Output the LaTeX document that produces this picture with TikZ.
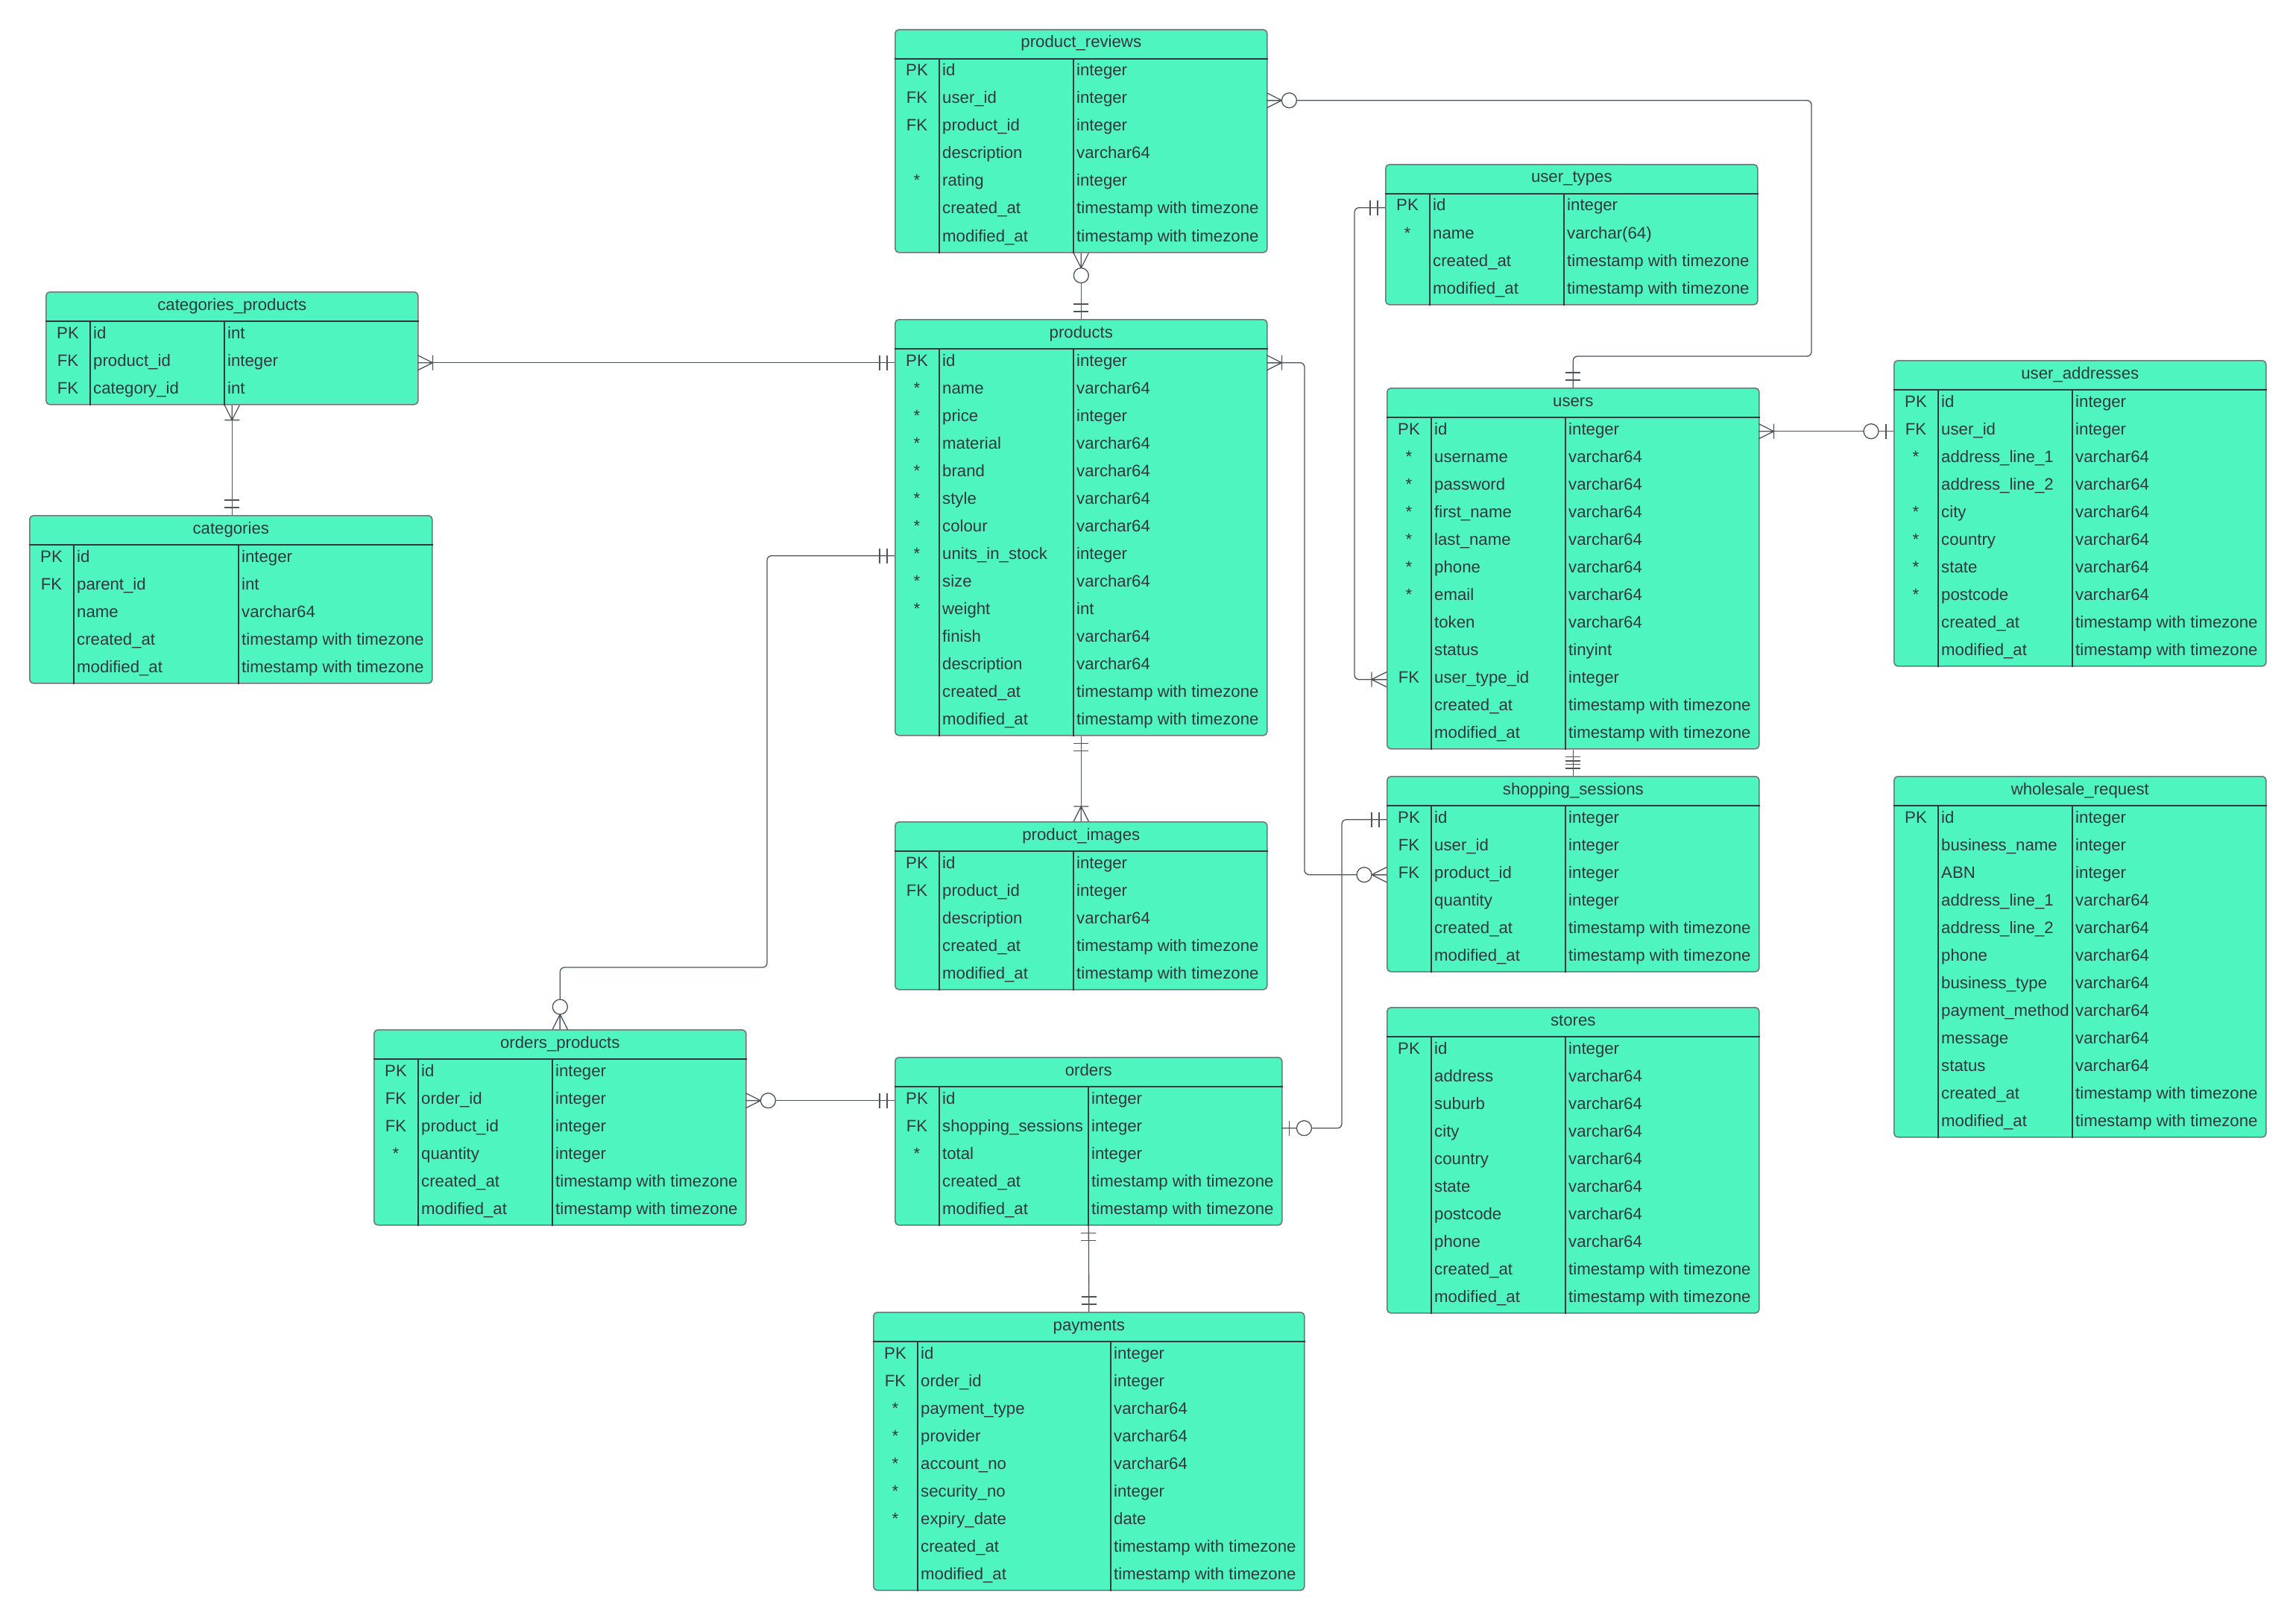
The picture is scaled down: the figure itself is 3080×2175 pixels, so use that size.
\documentclass[tikz,border=0pt]{standalone}
\usepackage{fontspec}
\setmainfont{Liberation Sans}
\usetikzlibrary{calc}

\definecolor{mint}{RGB}{79,245,190}
\definecolor{ink}{RGB}{50,55,62}
\definecolor{edgegrey}{RGB}{112,118,124}
\definecolor{wire}{RGB}{78,84,94}

\tikzset{
  tbl/.style={draw=edgegrey, line width=1.6pt, fill=mint, rounded corners=5pt,
    inner sep=0pt, anchor=north west},
  gridline/.style={draw=ink, line width=1.2pt},
  rowbox/.style={inner sep=0pt, minimum height=37pt, anchor=north west},
  txt/.style={inner sep=0pt, text=ink, font=\fontsize{22.2}{26}\selectfont},
  conn/.style={draw=wire, line width=1.3pt},
  route/.style={conn, rounded corners=6pt},
}

\newcommand\tstz{timestamp with timezone}

% #1 id, #2 left, #3 top, #4 name column width, #5 title, #6 row count, #7 rows key/name/type
\newcommand\erbox[7]{%
  \pgfmathsetmacro\tw{60+#4+259}%
  \pgfmathsetmacro\th{40+37*#6}%
  \node[tbl, minimum width=\tw pt, minimum height=\th pt] (#1) at (#2,#3) {};
  \node[txt, anchor=base] (#1-title) at ([yshift=-25pt]#1.north) {#5};
  \draw[gridline] ([yshift=-40pt]#1.north west) -- ([yshift=-40pt]#1.north east);
  \draw[gridline] ([shift={(60pt,-40pt)}]#1.north west) -- ([xshift=60pt]#1.south west);
  \draw[gridline] ([shift={(60pt+#4pt,-40pt)}]#1.north west) -- ([xshift=60pt+#4pt]#1.south west);
  \foreach \k/\n/\t [count=\i] in {#7}{%
    \node[rowbox, minimum width=\tw pt] (#1-r\i) at ([yshift={-40pt-37pt*(\i-1)}]#1.north west) {};
    \node[txt, anchor=base] (#1-k\i) at ([shift={(30pt,-23pt)}]#1-r\i.north west) {\k};
    \node[txt, anchor=base west] (#1-n\i) at ([shift={(64pt,-23pt)}]#1-r\i.north west) {\n};
    \node[txt, anchor=base west] (#1-t\i) at ([shift={(64pt+#4pt,-23pt)}]#1-r\i.north west) {\t};
  }%
}

% relationship ends: #1 point on the table edge, #2 outward direction
\newcommand\symZM[2]{\begin{scope}[shift={(#1)},rotate=#2]
  \draw[conn] (0,-10) -- (20,0) -- (0,10) (0,0) -- (20,0);
  \draw[conn, fill=white] (30,0) circle[radius=10pt];
\end{scope}}
\newcommand\symOM[2]{\begin{scope}[shift={(#1)},rotate=#2]
  \draw[conn] (0,-10) -- (20,0) -- (0,10) (0,0) -- (20,0) (20,-10) -- (20,10);
\end{scope}}
\newcommand\symOO[2]{\begin{scope}[shift={(#1)},rotate=#2]
  \draw[conn] (10,-10) -- (10,10) (20,-10) -- (20,10);
\end{scope}}
\newcommand\symZO[2]{\begin{scope}[shift={(#1)},rotate=#2]
  \draw[conn] (10,-10) -- (10,10);
  \draw[conn, fill=white] (30,0) circle[radius=10pt];
\end{scope}}

\begin{document}
\catcode`\_=12
\begin{tikzpicture}[x=1pt, y=-1pt]
\fill[white] (0,0) rectangle (3080,2175);
\useasboundingbox (0,0) rectangle (3080,2175);

\erbox{pr}{1200}{39}{180}{product_reviews}{7}{PK/id/integer, FK/user_id/integer,
  FK/product_id/integer, /description/varchar64, */rating/integer,
  /created_at/\tstz, /modified_at/\tstz}

\erbox{products}{1200}{428}{180}{products}{14}{PK/id/integer, */name/varchar64,
  */price/integer, */material/varchar64, */brand/varchar64, */style/varchar64,
  */colour/varchar64, */units_in_stock/integer, */size/varchar64, */weight/int,
  /finish/varchar64, /description/varchar64, /created_at/\tstz, /modified_at/\tstz}

\erbox{pi}{1200}{1102}{180}{product_images}{5}{PK/id/integer, FK/product_id/integer,
  /description/varchar64, /created_at/\tstz, /modified_at/\tstz}

\erbox{ut}{1858}{220}{180}{user_types}{4}{PK/id/integer, */name/varchar(64),
  /created_at/\tstz, /modified_at/\tstz}

\erbox{users}{1860}{520}{180}{users}{12}{PK/id/integer, */username/varchar64,
  */password/varchar64, */first_name/varchar64, */last_name/varchar64,
  */phone/varchar64, */email/varchar64, /token/varchar64, /status/tinyint,
  FK/user_type_id/integer, /created_at/\tstz, /modified_at/\tstz}

\erbox{ua}{2540}{483}{180}{user_addresses}{10}{PK/id/integer, FK/user_id/integer,
  */address_line_1/varchar64, /address_line_2/varchar64, */city/varchar64,
  */country/varchar64, */state/varchar64, */postcode/varchar64,
  /created_at/\tstz, /modified_at/\tstz}

\erbox{ss}{1860}{1041}{180}{shopping_sessions}{6}{PK/id/integer, FK/user_id/integer,
  FK/product_id/integer, /quantity/integer, /created_at/\tstz, /modified_at/\tstz}

\erbox{stores}{1860}{1351}{180}{stores}{10}{PK/id/integer, /address/varchar64,
  /suburb/varchar64, /city/varchar64, /country/varchar64, /state/varchar64,
  /postcode/varchar64, /phone/varchar64, /created_at/\tstz, /modified_at/\tstz}

\erbox{wr}{2540}{1041}{180}{wholesale_request}{12}{PK/id/integer,
  /business_name/integer, /ABN/integer, /address_line_1/varchar64,
  /address_line_2/varchar64, /phone/varchar64, /business_type/varchar64,
  /payment_method/varchar64, /message/varchar64, /status/varchar64,
  /created_at/\tstz, /modified_at/\tstz}

\erbox{cp}{61}{391}{180}{categories_products}{3}{PK/id/int, FK/product_id/integer,
  FK/category_id/int}

\erbox{cat}{39}{691}{221}{categories}{5}{PK/id/integer, FK/parent_id/int,
  /name/varchar64, /created_at/\tstz, /modified_at/\tstz}

\erbox{op}{501}{1381}{180}{orders_products}{6}{PK/id/integer, FK/order_id/integer,
  FK/product_id/integer, */quantity/integer, /created_at/\tstz, /modified_at/\tstz}

\erbox{orders}{1200}{1418}{200}{orders}{5}{PK/id/integer,
  FK/shopping_sessions/integer, */total/integer, /created_at/\tstz,
  /modified_at/\tstz}

\erbox{pay}{1171}{1760}{259}{payments}{9}{PK/id/integer, FK/order_id/integer,
  */payment_type/varchar64, */provider/varchar64, */account_no/varchar64,
  */security_no/integer, */expiry_date/date, /created_at/\tstz, /modified_at/\tstz}

% bends of the routed connectors
\coordinate (k1) at (2430,478);
\coordinate (k5) at (1029,1298);
\coordinate (k6) at (1750,0);
\coordinate (k8) at (1817,0);
\coordinate (k12) at (1800,0);

% connectors
\draw[route] (pr-r2.east) -| (k1) -| (users.north);
\draw[conn] (pr.south) -- (products.north);
\draw[conn] (cp-r2.east) -- (products-r1.west);
\draw[conn] (cp.south) -- (cp.south |- cat.north);
\draw[route] (products-r8.west) -| (k5) -| (op.north);
\draw[route] (products-r1.east) -| (k6 |- ss-r3.west) -- (ss-r3.west);
\draw[conn] (products.south) -- (pi.north);
\draw[route] (ut-r1.west) -| (k8 |- users-r10.west) -- (users-r10.west);
\draw[conn] (users-r1.east) -- (ua-r2.west);
\draw[conn] (users.south) -- (ss.north);
\draw[conn] (op-r2.east) -- (orders-r1.west);
\draw[route] (orders-r2.east) -| (k12 |- ss-r1.west) -- (ss-r1.west);
\draw[conn] (orders.south) -- (pay.north);

% cardinality marks
\symZM{pr-r2.east}{0}       \symOO{users.north}{90}
\symZM{pr.south}{270}       \symOO{products.north}{90}
\symOM{cp-r2.east}{0}       \symOO{products-r1.west}{180}
\symOM{cp.south}{270}       \symOO{cp.south |- cat.north}{90}
\symOO{products-r8.west}{180} \symZM{op.north}{90}
\symOM{products-r1.east}{0} \symZM{ss-r3.west}{180}
\symOO{products.south}{270} \symOM{pi.north}{90}
\symOO{ut-r1.west}{180}     \symOM{users-r10.west}{180}
\symOM{users-r1.east}{0}    \symZO{ua-r2.west}{180}
\symOO{users.south}{270}    \symOO{ss.north}{90}
\symZM{op-r2.east}{0}       \symOO{orders-r1.west}{180}
\symZO{orders-r2.east}{0}   \symOO{ss-r1.west}{180}
\symOO{orders.south}{270}   \symOO{pay.north}{90}
\end{tikzpicture}
\end{document}
